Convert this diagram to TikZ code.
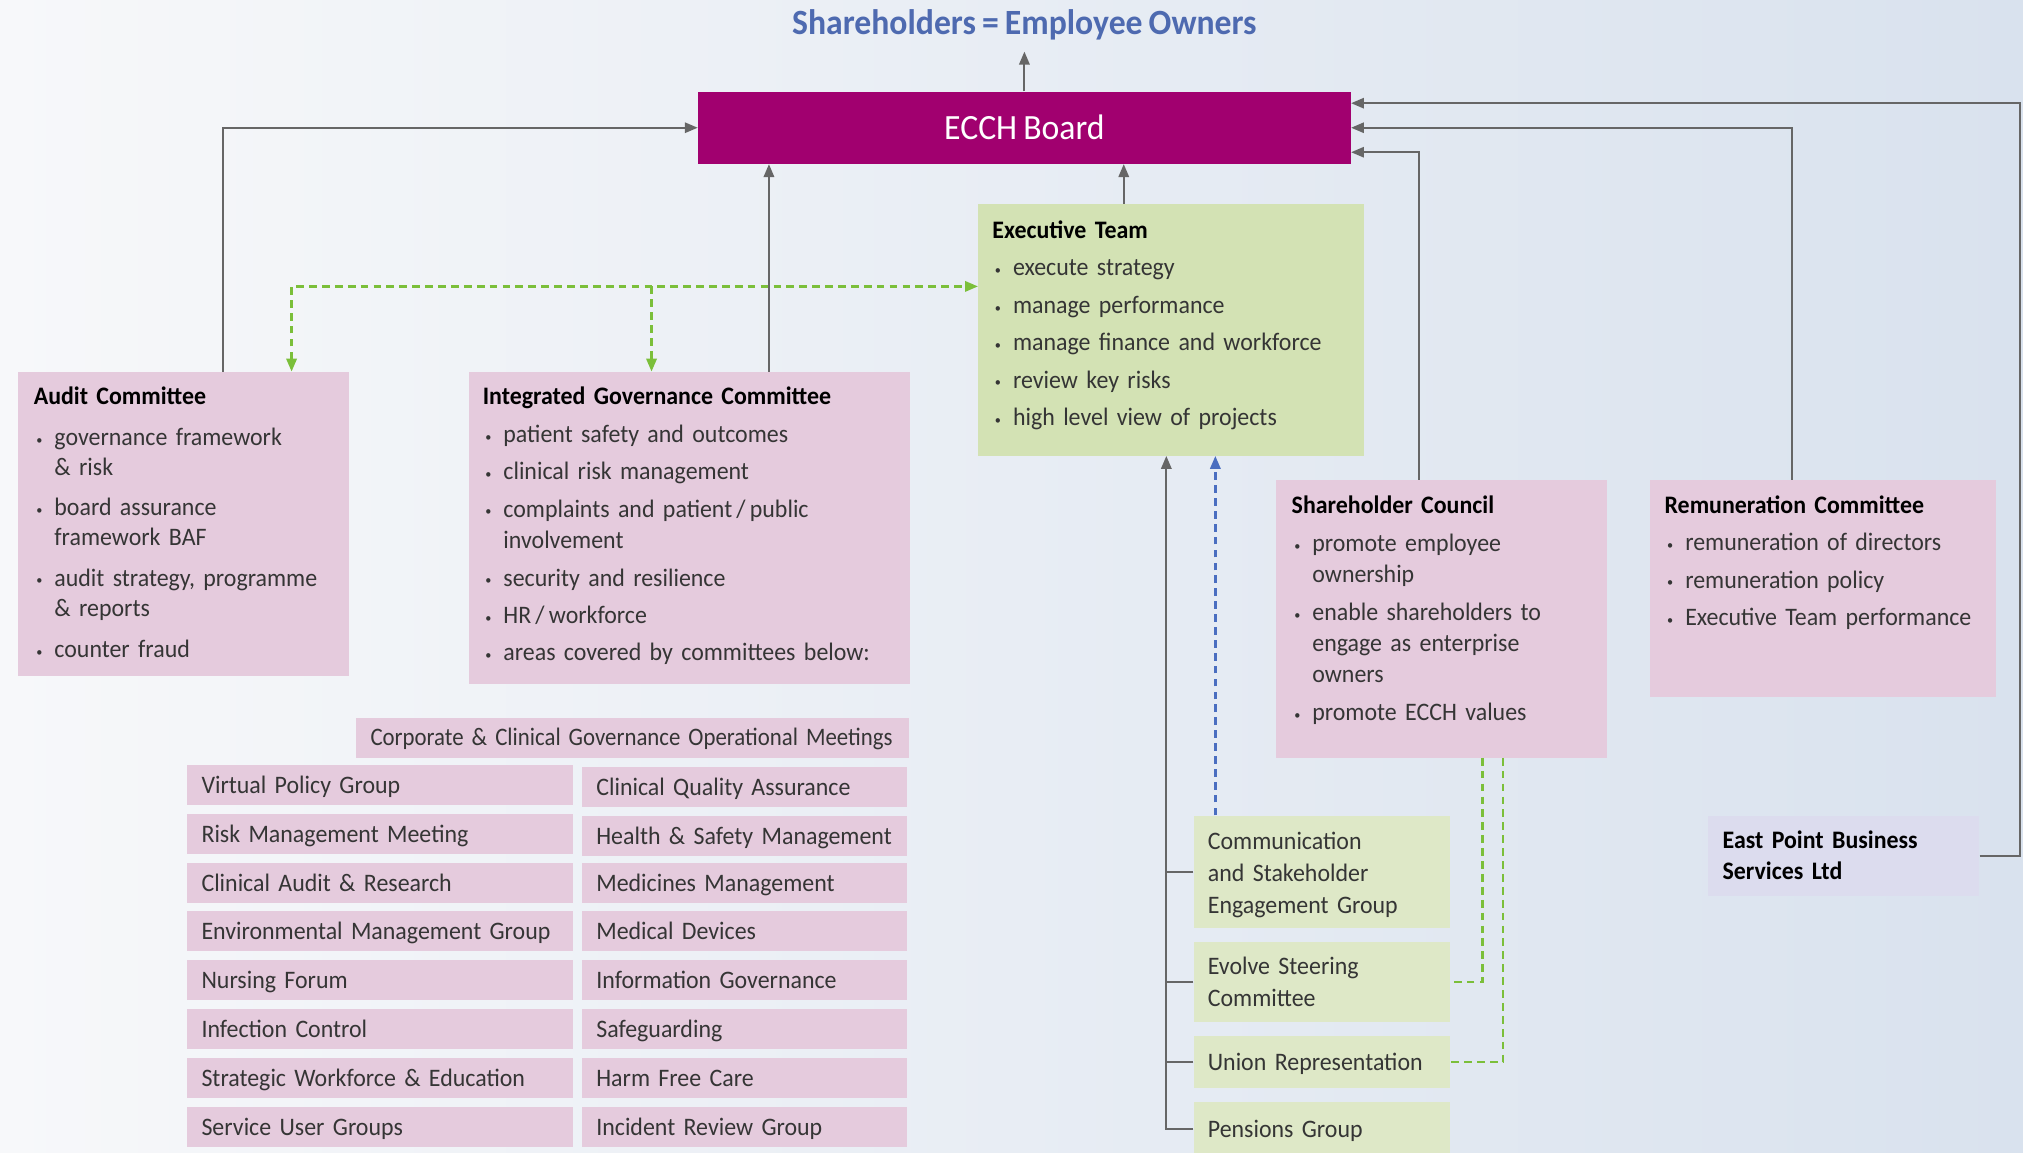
\documentclass[tikz,border=0pt]{standalone}
\usepackage{fontspec}
\setmainfont{Carlito}[FakeStretch=0.95,WordSpace=0.8]
\usetikzlibrary{arrows.meta,calc}
\definecolor{boardc}{HTML}{A1006F}
\definecolor{pinkc}{HTML}{E5CBDD}
\definecolor{greenc}{HTML}{D3E2B4}
\definecolor{lgreenc}{HTML}{DEE8C7}
\definecolor{lavc}{HTML}{DCDCEE}
\definecolor{linec}{HTML}{666666}
\definecolor{dgreen}{HTML}{7BBF3A}
\definecolor{dblue}{HTML}{4A6EC0}
\definecolor{titlec}{HTML}{4E6AB0}
\definecolor{txt}{HTML}{353535}
\definecolor{bgl}{HTML}{F7F8FA}
\definecolor{bgr}{HTML}{D9E2EE}
\newcommand{\bodyfont}{\fontsize{19.5}{24}\selectfont}
\newcommand{\bl}[1]{\par\hangindent=16pt\hangafter=1\noindent\makebox[16pt][l]{\hspace{2pt}{\fontsize{10}{10}\selectfont\raisebox{1pt}{\textbullet}}}#1}
\newcommand{\hd}[1]{\noindent{\bfseries\color{black}#1}}
\tikzset{
 arr/.style={draw=linec, line width=1.6pt, -{Triangle[length=10pt,width=8pt]}},
 ln/.style={draw=linec, line width=1.6pt},
 gdash/.style={draw=dgreen, line width=1.8pt, dash pattern=on 6pt off 4pt},
 bdash/.style={draw=dblue, line width=1.8pt, dash pattern=on 6pt off 4pt},
 box/.style={rectangle, inner sep=0pt, anchor=north west},
 txtnode/.style={anchor=north west, inner sep=0pt, text width=#1, align=left, font=\bodyfont, text=txt},
 cellbase/.style={rectangle, anchor=north west, minimum height=31pt, inner xsep=11pt, inner ysep=0pt, text width=#1, align=left, font=\bodyfont, text=txt, fill=pinkc},
 cell/.style={cellbase=#1, text height=15.5pt, text depth=2.5pt},
 gcell/.style={cellbase=#1, fill=lgreenc, font=\fontsize{19.5}{24.5}\selectfont},
 gcellone/.style={cell=#1, fill=lgreenc},
}
\begin{document}
\begin{tikzpicture}[x=1pt,y=-1pt]
\useasboundingbox (0,0) rectangle (1568,893);
\shade[left color=bgl, right color=bgr] (0,0) rectangle (1568,893);

% title and board
\node[font=\fontsize{27.5}{30}\selectfont\bfseries, text=titlec, inner sep=0pt] (title) at (794,19) {Shareholders = Employee Owners};
\coordinate (titlearr) at (794,40);
\node[rectangle, fill=boardc, minimum width=506pt, minimum height=56pt, inner sep=0pt, text=white, font=\fontsize{27.5}{30}\selectfont] (board) at (794,99) {ECCH Board};

% big boxes
\node[box, fill=pinkc, minimum width=256pt, minimum height=236pt] (audit) at (14,288) {};
\node[box, fill=pinkc, minimum width=342pt, minimum height=242pt] (igc) at (363,288) {};
\node[box, fill=greenc, minimum width=299pt, minimum height=195pt] (exec) at (758,158) {};
\node[box, fill=pinkc, minimum width=256pt, minimum height=215pt] (sc) at (989,372) {};
\node[box, fill=pinkc, minimum width=268pt, minimum height=168pt] (rem) at (1279,372) {};
\node[cellbase=188pt, fill=lavc, minimum height=62pt, font=\bodyfont\bfseries, text=black] (ep) at (1324,632) {East Point Business\\Services Ltd};

% texts in big boxes
\node[txtnode=300pt] (audit-t) at (26,300) {\fontsize{19.5}{23.3}\selectfont\setlength{\parskip}{8pt}\hd{Audit Committee}
\bl{governance framework\newline \& risk}
\bl{board assurance\newline framework BAF}
\bl{audit strategy, programme\newline \& reports}
\bl{counter fraud}};
\node[txtnode=330pt] (igc-t) at (374,300) {\fontsize{19.5}{24.5}\selectfont\setlength{\parskip}{4.5pt}\hd{Integrated Governance Committee}
\bl{patient safety and outcomes}
\bl{clinical risk management}
\bl{complaints and patient\,/\,public\newline involvement}
\bl{security and resilience}
\bl{HR\,/\,workforce}
\bl{areas covered by committees below:}};
\node[txtnode=290pt] (exec-t) at (769,171) {\setlength{\parskip}{5pt}\hd{Executive Team}
\bl{execute strategy}
\bl{manage performance}
\bl{manage finance and workforce}
\bl{review key risks}
\bl{high level view of projects}};
\node[txtnode=250pt] (sc-t) at (1001,384) {\fontsize{19.5}{24}\selectfont\setlength{\parskip}{5.5pt}\hd{Shareholder Council}
\bl{promote employee\newline ownership}
\bl{enable shareholders to\newline engage as enterprise\newline owners}
\bl{promote ECCH values}};
\node[txtnode=265pt] (rem-t) at (1290,384) {\setlength{\parskip}{5pt}\hd{Remuneration Committee}
\bl{remuneration of directors}
\bl{remuneration policy}
\bl{Executive Team performance}};

% operational meetings
\node[cell=406pt] (ops) at (276,556) {\scalebox{0.955}[1]{Corporate \& Clinical Governance Operational Meetings}};
\node[cell=277pt] (c1) at (145,593) {\mbox{Virtual Policy Group}};
\node[cell=277pt] (c2) at (145,631) {\mbox{Risk Management Meeting}};
\node[cell=277pt] (c3) at (145,669) {\mbox{Clinical Audit \& Research}};
\node[cell=277pt] (c4) at (145,706) {\mbox{Environmental Management Group}};
\node[cell=277pt] (c5) at (145,744) {\mbox{Nursing Forum}};
\node[cell=277pt] (c6) at (145,782) {\mbox{Infection Control}};
\node[cell=277pt] (c7) at (145,820) {\mbox{Strategic Workforce \& Education}};
\node[cell=277pt] (c8) at (145,858) {\mbox{Service User Groups}};
\node[cell=230pt] (d1) at (451,594) {\mbox{Clinical Quality Assurance}};
\node[cell=230pt] (d2) at (451,632) {\mbox{Health \& Safety Management}};
\node[cell=230pt] (d3) at (451,669) {\mbox{Medicines Management}};
\node[cell=230pt] (d4) at (451,706) {\mbox{Medical Devices}};
\node[cell=230pt] (d5) at (451,744) {\mbox{Information Governance}};
\node[cell=230pt] (d6) at (451,782) {\mbox{Safeguarding}};
\node[cell=230pt] (d7) at (451,820) {\mbox{Harm Free Care}};
\node[cell=230pt] (d8) at (451,858) {\mbox{Incident Review Group}};

% green sub-groups
\node[gcell=177pt, minimum height=87pt, text height=18.5pt] (comm) at (925,632) {Communication\\and Stakeholder\\Engagement Group};
\node[gcell=177pt, minimum height=62pt] (evolve) at (925,730) {Evolve Steering\\Committee};
\node[gcellone=177pt, minimum height=40pt] (union) at (925,803) {Union Representation};
\node[gcellone=177pt, minimum height=42pt] (pens) at (925,854) {Pensions Group};

% connectors to board
\draw[arr] (board.north) -- (titlearr);
\draw[arr] ($(audit.north west)+(159,0)$) |- (board.west);
\draw[arr] ($(igc.north west)+(233,0)$) coordinate (igcup) -- (igcup |- board.south);
\draw[arr] ($(exec.north west)+(113,0)$) coordinate (execup) -- (execup |- board.south);
\draw[arr] ($(sc.north west)+(111,0)$) |- ($(board.east)+(0,19)$);
\draw[arr] ($(rem.north west)+(110,0)$) |- (board.east);
\draw[arr] (ep.east) -- ++(31,0) |- ($(board.east)+(0,-19)$);

% green dashed between committees and exec
\draw[gdash, {Triangle[length=10pt,width=8pt]}-{Triangle[length=10pt,width=8pt]}, dgreen] ($(audit.north west)+(212,0)$) |- ($(exec.north west)+(0,64)$);
\draw[gdash, -{Triangle[length=10pt,width=8pt]}, dgreen] ($(igc.north west)+(142,-66)$) -- ($(igc.north west)+(142,0)$);

% sub-groups to exec
\draw[arr] (pens.west) -| ($(exec.south west)+(146,0)$);
\draw[ln] (comm.west) -- ++(-21,0);
\draw[ln] (evolve.west) -- ++(-21,0);
\draw[ln] (union.west) -- ++(-21,0);
\draw[bdash, -{Triangle[length=10pt,width=8pt]}, dblue] ($(comm.north west)+(17,0)$) -- ($(exec.south west)+(184,0)$);

% shareholder council to groups
\draw[gdash] ($(sc.south west)+(160,0)$) |- (evolve.east);
\draw[gdash] ($(sc.south west)+(176,0)$) |- (union.east);
\end{tikzpicture}
\end{document}
